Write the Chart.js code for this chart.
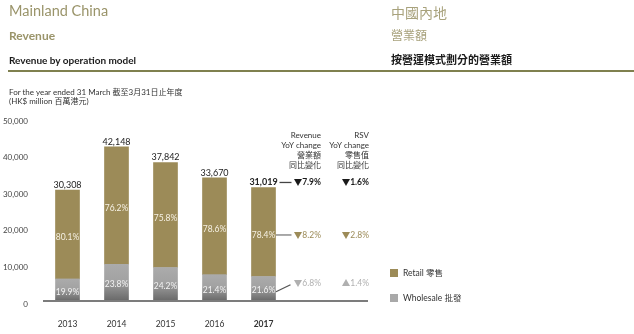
<!DOCTYPE html>
<html>
<head>
<meta charset="utf-8">
<script src="https://cdn.jsdelivr.net/npm/chart.js@4/dist/chart.umd.min.js"></script>
<style>
  html, body { margin: 0; padding: 0; background: #fff; }
  #wrap { position: relative; width: 634px; height: 334px; overflow: hidden; font-family: Lato, "Noto Sans CJK TC", sans-serif; }
  canvas { position: absolute; left: 0; top: 0; }
  .t { position: absolute; white-space: nowrap; line-height: 1; }
</style>
</head>
<body>
<div id="wrap">
  <canvas id="c" width="634" height="334"></canvas>
  <div class="t" style="left:9px;top:4px;font-size:14.5px;color:#9a946a;">Mainland China</div>
  <div class="t" style="left:9px;top:30px;font-size:12px;font-weight:bold;color:#9a946a;">Revenue</div>
  <div class="t" style="left:9px;top:55px;font-size:10px;font-weight:bold;color:#1a1a1a;">Revenue by operation model</div>
  <div class="t" style="left:391px;top:5px;font-size:14px;color:#a8a27c;font-family:'Noto Sans CJK TC';">中國內地</div>
  <div class="t" style="left:391px;top:29px;font-size:12px;color:#a8a27c;font-family:'Noto Sans CJK TC';">營業額</div>
  <div class="t" style="left:391px;top:54px;font-size:11px;font-weight:bold;color:#1a1a1a;font-family:'Noto Sans CJK TC';">按營運模式劃分的營業額</div>
  <div style="position:absolute;left:8px;top:70px;width:626px;height:2px;background:#7f804f;"></div>
  <div class="t" style="left:9px;top:88px;font-size:8px;color:#333;">For the year ended 31 March 截至3月31日止年度</div>
  <div class="t" style="left:9px;top:97px;font-size:8px;color:#333;">(HK$ million 百萬港元)</div>
</div>
<script>
const years = ['2013', '2014', '2015', '2016', '2017'];
const totals = [30308, 42148, 37842, 33670, 31019];
const retail = [24277, 32117, 28684, 26465, 24319];
const wholesale = [6031, 10031, 9158, 7205, 6700];
const retailPct = ['80.1%', '76.2%', '75.8%', '78.6%', '78.4%'];
const wholesalePct = ['19.9%', '23.8%', '24.2%', '21.4%', '21.6%'];
const revenueYoY = ['▼7.9%', '▼8.2%', '▼6.8%'];
const rsvYoY = ['▼1.6%', '▼2.8%', '▲1.4%'];

const OLIVE = '#9c8b58';
const GRAY = '#a9a9a9';
const FONT = 'Lato, "Noto Sans CJK TC", sans-serif';

function wholesaleFill(ctx) {
  const chart = ctx.chart;
  const area = chart.chartArea;
  if (!area || ctx.dataIndex === undefined) return GRAY;
  const y = chart.scales.y;
  const top = y.getPixelForValue(wholesale[ctx.dataIndex]);
  const bottom = y.getPixelForValue(0);
  const g = chart.ctx.createLinearGradient(0, top, 0, bottom);
  g.addColorStop(0, '#ababab');
  g.addColorStop(0.45, '#a2a2a2');
  g.addColorStop(1, '#686868');
  return g;
}

const overlay = {
  id: 'overlay',
  afterDatasetsDraw(chart) {
    const ctx = chart.ctx;
    const x = chart.scales.x, y = chart.scales.y;
    const y0 = y.getPixelForValue(0);
    const area = chart.chartArea;
    ctx.save();
    ctx.strokeStyle = '#7c7c7c';
    ctx.lineWidth = 2;
    ctx.beginPath();
    ctx.moveTo(area.left, y0);
    ctx.lineTo(area.right + 80, y0);
    ctx.stroke();

    ctx.textAlign = 'center';
    ctx.textBaseline = 'middle';
    const last = years.length - 1;
    years.forEach((yr, i) => {
      const cx = x.getPixelForValue(i);
      const yt = y.getPixelForValue(totals[i]);
      ctx.fillStyle = '#222';
      ctx.font = (i === last ? 'bold ' : '') + '9px ' + FONT;
      ctx.fillText(totals[i].toLocaleString('en-US'), cx, yt - 5);
      const yw = y.getPixelForValue(wholesale[i]);
      ctx.fillStyle = '#f6f1e4';
      ctx.font = '8.5px ' + FONT;
      ctx.fillText(retailPct[i], cx, (yt + yw) / 2 + 3);
      ctx.fillStyle = '#f2f2f2';
      ctx.fillText(wholesalePct[i], cx, (yw + y0) / 2 + 2);
    });

    const bx = x.getPixelForValue(last);
    const barRight = bx + 12.5;
    const colA = area.right + 33;
    const colB = area.right + 81;
    ctx.fillStyle = '#333';
    ctx.font = '8px ' + FONT;
    ctx.textAlign = 'right';
    const hdrA = ['Revenue', 'YoY change', '營業額', '同比變化'];
    const hdrB = ['RSV', 'YoY change', '零售值', '同比變化'];
    hdrA.forEach((t, k) => ctx.fillText(t, colA, 135 + k * 10));
    hdrB.forEach((t, k) => ctx.fillText(t, colB, 135 + k * 10));

    const yTot = y.getPixelForValue(totals[last]) - 5;
    const yw = y.getPixelForValue(wholesale[last]);
    const yRet = (y.getPixelForValue(totals[last]) + yw) / 2 + 3;
    const yWh = (yw + y0) / 2 + 2;
    const yWhAnn = yWh - 7;
    const rowsY = [yTot, yRet, yWhAnn];
    const rowCol = ['#1a1a1a', OLIVE, '#b0b0b0'];

    ctx.lineWidth = 1.3;
    ctx.strokeStyle = '#444';
    ctx.beginPath(); ctx.moveTo(bx + 16, yTot); ctx.lineTo(bx + 28, yTot); ctx.stroke();
    ctx.strokeStyle = '#7c7c7c';
    ctx.beginPath(); ctx.moveTo(barRight, yRet); ctx.lineTo(bx + 28, yRet); ctx.stroke();
    ctx.strokeStyle = '#555';
    ctx.beginPath(); ctx.moveTo(barRight, yWh + 1); ctx.lineTo(bx + 27, yWhAnn + 1); ctx.stroke();

    rowsY.forEach((ry, k) => {
      ctx.fillStyle = rowCol[k];
      ctx.font = (k === 0 ? 'bold ' : '') + '8.5px ' + FONT;
      ctx.fillText(revenueYoY[k], colA, ry);
      ctx.fillText(rsvYoY[k], colB, ry);
    });

    const items = [['Retail 零售', OLIVE, 273], ['Wholesale 批發', GRAY, 298]];
    ctx.textAlign = 'left';
    ctx.font = '8.5px ' + FONT;
    items.forEach(([label, col, ly]) => {
      ctx.fillStyle = col;
      ctx.fillRect(area.right + 102, ly - 4, 8, 8);
      ctx.fillStyle = '#333';
      ctx.fillText(label, area.right + 115, ly);
    });
    ctx.restore();
  }
};

new Chart(document.getElementById('c'), {
  type: 'bar',
  data: {
    labels: years,
    datasets: [
      { label: 'Wholesale 批發', data: wholesale, backgroundColor: wholesaleFill, borderWidth: 0 },
      { label: 'Retail 零售', data: retail, backgroundColor: OLIVE, borderWidth: 0 }
    ]
  },
  options: {
    responsive: false,
    animation: false,
    layout: { padding: { top: 118, right: 346, left: 0, bottom: 0 } },
    plugins: { legend: { display: false }, tooltip: { enabled: false } },
    datasets: { bar: { barThickness: 24 } },
    scales: {
      x: {
        stacked: true,
        grid: { display: false },
        border: { display: false },
        ticks: {
          color: '#333',
          padding: 10,
          font: (c) => ({ family: FONT, size: 8.5, weight: c.index === 4 ? 'bold' : 'normal' })
        },
        afterFit: (s) => { s.height = 33; }
      },
      y: {
        stacked: true,
        min: 0, max: 50000,
        grid: { display: false },
        border: { display: false },
        ticks: {
          stepSize: 10000,
          color: '#444',
          padding: 7,
          labelOffset: 3,
          font: { family: FONT, size: 8 },
          callback: (v) => Number(v).toLocaleString('en-US')
        },
        afterFit: (s) => { s.width = 43; }
      }
    }
  },
  plugins: [overlay]
});
</script>
</body>
</html>
